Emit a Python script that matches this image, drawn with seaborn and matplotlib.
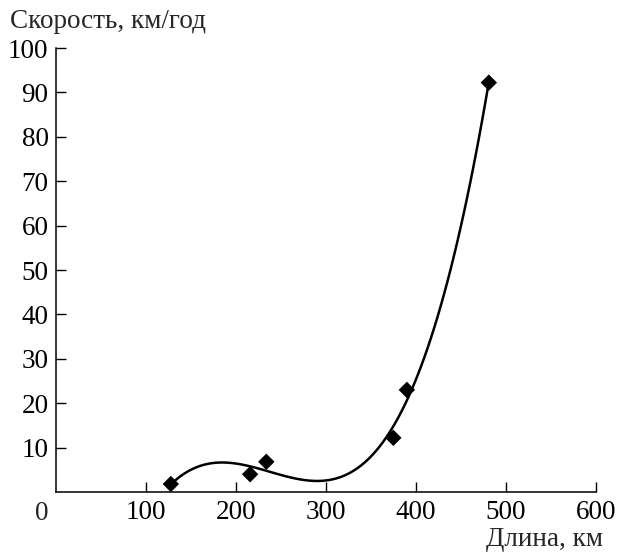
import matplotlib
matplotlib.use("Agg")
import matplotlib.pyplot as plt
import seaborn as sns
import numpy as np
import pandas as pd

length_km = [128, 216, 234, 375, 390, 481]
speed_kmh = [1.8, 4.0, 6.8, 12.2, 23.0, 92.2]

x_ticks = [100, 200, 300, 400, 500, 600]
y_ticks = [10, 20, 30, 40, 50, 60, 70, 80, 90, 100]

sns.set_style("ticks")
plt.rcParams["font.family"] = ["Liberation Serif", "DejaVu Serif"]

df = pd.DataFrame({"x": length_km, "y": speed_kmh})

fs = 19.5
fig = plt.figure(figsize=(6.17, 5.53), dpi=100)
ax = fig.add_axes([0.09, 0.1103, 0.876, 0.8029])

sns.regplot(data=df, x="x", y="y", order=3, ci=None, ax=ax,
            marker="D", color="black",
            scatter_kws={"s": 70, "edgecolor": "none", "alpha": 1, "zorder": 3},
            line_kws={"linewidth": 1.8, "color": "black"})

ax.set_xlim(0, 600)
ax.set_ylim(0, 100)
ax.set_xticks(x_ticks)
ax.set_yticks(y_ticks)
ax.set_xticklabels([str(v) for v in x_ticks])
ax.set_yticklabels([str(v) for v in y_ticks])
ax.tick_params(axis="both", direction="in", length=7, width=1.0,
               labelsize=fs, color="black", labelcolor="black")
ax.tick_params(axis="x", pad=6)
ax.tick_params(axis="y", pad=5)
for s in ["top", "right"]:
    ax.spines[s].set_visible(False)
for s in ["left", "bottom"]:
    ax.spines[s].set_linewidth(1.1)
    ax.spines[s].set_color("black")
ax.set_xlabel("")
ax.set_ylabel("")

fig.text(42 / 617, 1 - 513 / 553, "0", ha="center", va="center", fontsize=fs)
fig.text(10 / 617, 1 - 22 / 553, "Скорость, км/год", ha="left", va="center", fontsize=fs)
fig.text(603 / 617, 1 - 539 / 553, "Длина, км", ha="right", va="center", fontsize=fs)

fig.savefig("out.png", dpi=100)
